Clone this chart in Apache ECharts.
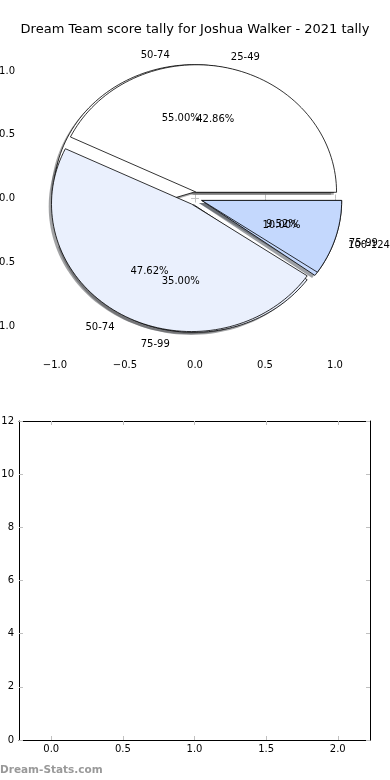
<!DOCTYPE html>
<html>
<head>
<meta charset="utf-8">
<script src="https://cdn.jsdelivr.net/npm/echarts@6/dist/echarts.min.js"></script>
<style>
html,body{margin:0;padding:0;background:#fff;}
#chart{width:390px;height:780px;}
</style>
</head>
<body>
<div id="chart"></div>
<script>
const chartTitle = 'Dream Team score tally for Joshua Walker - 2021 tally';
const pie1Labels = ['25-49', '50-74', '75-99'];
const pie1Values = [42.86, 47.62, 9.52];
const pie2Labels = ['50-74', '75-99', '100-124'];
const pie2Values = [55.00, 35.00, 10.00];
const pieColors = ['#ffffff', '#eaf0fd', '#c4d8fd'];
const pieExplode = 0.05;
const pieTicks = [-1.0, -0.5, 0.0, 0.5, 1.0];
const barXTicks = [0.0, 0.5, 1.0, 1.5, 2.0];
const barYTicks = [0, 2, 4, 6, 8, 10, 12];
const watermark = 'Dream-Stats.com';

const FONT = '"DejaVu Sans", sans-serif';
const TICK_COLOR = '#c0c0c0';

function buildPie(values, labels) {
  const total = values.reduce((a, b) => a + b, 0);
  let start = 0;
  const wedges = [], texts = [];
  values.forEach((v, i) => {
    const end = start + v / total * 360;
    const mid = (start + end) / 2 * Math.PI / 180;
    const cx = pieExplode * Math.cos(mid), cy = pieExplode * Math.sin(mid);
    wedges.push([cx, cy, start, end, i]);
    const lx = cx + 1.1 * Math.cos(mid), ly = cy + 1.1 * Math.sin(mid);
    texts.push({ value: [lx, ly], text: labels[i], align: lx > 0 ? 'left' : 'right' });
    const px = cx + 0.6 * Math.cos(mid), py = cy + 0.6 * Math.sin(mid);
    texts.push({ value: [px, py], text: v.toFixed(2) + '%', align: 'center' });
    start = end;
  });
  return { wedges, texts };
}
const pie1 = buildPie(pie1Values, pie1Labels);
const pie2 = buildPie(pie2Values, pie2Labels);

function wedgePoints(api, cx, cy, a0, a1) {
  const pts = [api.coord([cx, cy])];
  const n = Math.max(8, Math.ceil((a1 - a0) / 2));
  for (let k = 0; k <= n; k++) {
    const a = (a0 + (a1 - a0) * k / n) * Math.PI / 180;
    pts.push(api.coord([cx + Math.cos(a), cy + Math.sin(a)]));
  }
  return pts;
}
function wedgeRender(params, api) {
  const cx = api.value(0), cy = api.value(1), a0 = api.value(2), a1 = api.value(3), ci = api.value(4);
  return { type: 'polygon', shape: { points: wedgePoints(api, cx, cy, a0, a1) },
    style: { fill: pieColors[ci], stroke: '#000', lineWidth: 0.8 } };
}
function shadowRender(params, api) {
  const cx = api.value(0) - 0.02, cy = api.value(1) - 0.02, a0 = api.value(2), a1 = api.value(3), ci = api.value(4);
  const c = echarts.color.parse(pieColors[ci]);
  return { type: 'polygon', shape: { points: wedgePoints(api, cx, cy, a0, a1) },
    style: { fill: 'rgba(' + Math.round(c[0]*0.3) + ',' + Math.round(c[1]*0.3) + ',' + Math.round(c[2]*0.3) + ',0.5)' } };
}
const allTexts = pie1.texts.concat(pie2.texts);
function textRender(params, api) {
  const t = allTexts[params.dataIndex];
  const p = api.coord([api.value(0), api.value(1)]);
  return { type: 'text', x: p[0], y: p[1] + 1.5,
    style: { text: t.text, align: t.align, verticalAlign: 'middle', font: '10px ' + FONT, fill: '#000' } };
}

function fmt(v) { return (v < 0 ? '\u2212' : '') + Math.abs(v).toFixed(1); }

const tickInside = { show: true, inside: true, length: 4, lineStyle: { color: TICK_COLOR, width: 1 } };
const labelStyle = { color: '#000', fontSize: 10, fontFamily: FONT };

const option = {
  animation: false,
  backgroundColor: '#fff',
  graphic: [
    { type: 'text', left: 'center', top: 23, style: { text: chartTitle, font: '13px ' + FONT, fill: '#000' } },
    { type: 'text', left: 0, top: 765, style: { text: watermark, font: 'bold 10.5px ' + FONT, fill: '#999' } }
  ],
  grid: [
    { left: 20, top: 41, width: 350, height: 315, show: false, outerBoundsMode: 'none', containLabel: false },
    { left: 19, top: 421, width: 351, height: 319, show: false, outerBoundsMode: 'none', containLabel: false }
  ],
  xAxis: [
    { gridIndex: 0, type: 'value', min: -1.25, max: 1.25, position: 'bottom',
      axisLine: { show: false }, splitLine: { show: false },
      axisTick: Object.assign({ customValues: pieTicks }, tickInside),
      axisLabel: Object.assign({ customValues: pieTicks, formatter: fmt, margin: 4 }, labelStyle) },
    { gridIndex: 0, type: 'value', min: -1.25, max: 1.25, position: 'top',
      axisLine: { show: false }, splitLine: { show: false },
      axisTick: Object.assign({ customValues: pieTicks }, tickInside),
      axisLabel: { show: false } },
    { gridIndex: 1, type: 'value', min: -0.225, max: 2.225, position: 'bottom',
      axisLine: { show: true, onZero: false, lineStyle: { color: '#000', width: 1 } }, splitLine: { show: false },
      axisTick: Object.assign({ customValues: barXTicks }, tickInside),
      axisLabel: Object.assign({ customValues: barXTicks, formatter: fmt, margin: 4 }, labelStyle) },
    { gridIndex: 1, type: 'value', min: -0.225, max: 2.225, position: 'top',
      axisLine: { show: true, onZero: false, lineStyle: { color: '#000', width: 1 } }, splitLine: { show: false },
      axisTick: Object.assign({ customValues: barXTicks }, tickInside),
      axisLabel: { show: false } }
  ],
  yAxis: [
    { gridIndex: 0, type: 'value', min: -1.235, max: 1.235, position: 'left',
      axisLine: { show: false }, splitLine: { show: false },
      axisTick: Object.assign({ customValues: pieTicks }, tickInside),
      axisLabel: Object.assign({ customValues: pieTicks, formatter: fmt, margin: 5 }, labelStyle) },
    { gridIndex: 0, type: 'value', min: -1.235, max: 1.235, position: 'right',
      axisLine: { show: false }, splitLine: { show: false },
      axisTick: Object.assign({ customValues: pieTicks }, tickInside),
      axisLabel: { show: false } },
    { gridIndex: 1, type: 'value', min: 0, max: 12, interval: 2, position: 'left',
      axisLine: { show: true, onZero: false, lineStyle: { color: '#000', width: 1 } }, splitLine: { show: false },
      axisTick: tickInside,
      axisLabel: Object.assign({ formatter: v => String(v), margin: 5 }, labelStyle) },
    { gridIndex: 1, type: 'value', min: 0, max: 12, interval: 2, position: 'right',
      axisLine: { show: true, onZero: false, lineStyle: { color: '#000', width: 1 } }, splitLine: { show: false },
      axisTick: tickInside,
      axisLabel: { show: false } }
  ],
  series: [
    { type: 'custom', name: 'shadows', xAxisIndex: 0, yAxisIndex: 0, z: 1, silent: true,
      renderItem: shadowRender, data: pie2.wedges.concat(pie1.wedges), encode: { x: 0, y: 1 } },
    { type: 'custom', name: 'pie2', xAxisIndex: 0, yAxisIndex: 0, z: 2, silent: true,
      renderItem: wedgeRender, data: pie2.wedges, encode: { x: 0, y: 1 } },
    { type: 'custom', name: 'pie1', xAxisIndex: 0, yAxisIndex: 0, z: 3, silent: true,
      renderItem: wedgeRender, data: pie1.wedges, encode: { x: 0, y: 1 } },
    { type: 'custom', name: 'labels', xAxisIndex: 0, yAxisIndex: 0, z: 4, silent: true,
      renderItem: textRender, data: allTexts.map(t => t.value), encode: { x: 0, y: 1 } },
    { type: 'scatter', name: 'empty', xAxisIndex: 2, yAxisIndex: 2, data: [] }
  ]
};

const chart = echarts.init(document.getElementById('chart'), null, { renderer: 'canvas' });
chart.setOption(option);
</script>
</body>
</html>
